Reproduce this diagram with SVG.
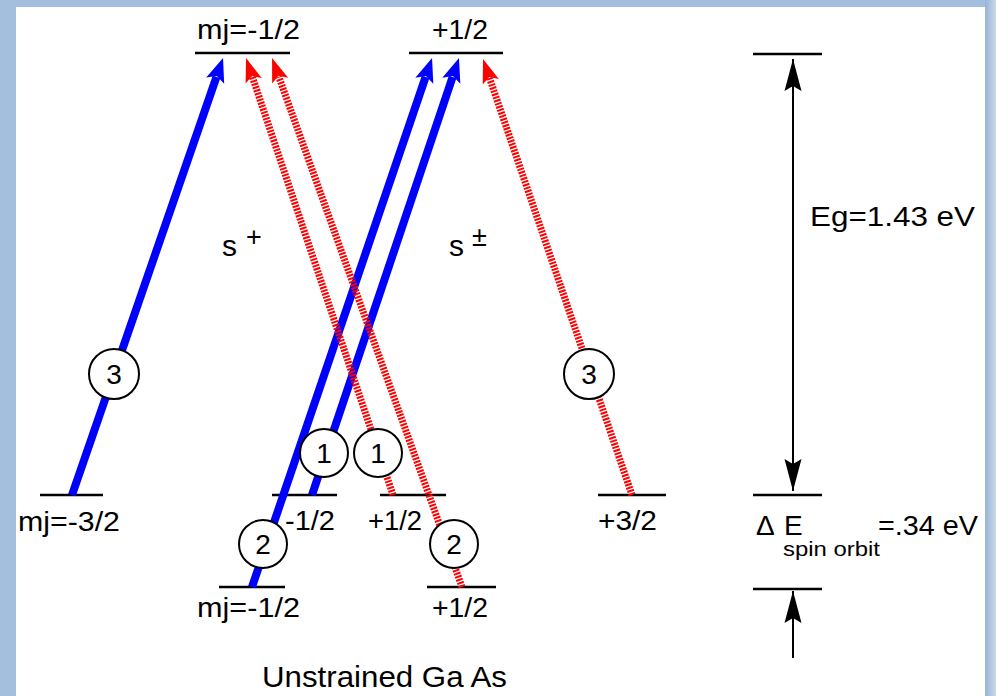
<svg xmlns="http://www.w3.org/2000/svg" width="996" height="696" viewBox="0 0 996 696">
<defs>
<linearGradient id="rb" x1="0" y1="0" x2="1" y2="0">
<stop offset="0" stop-color="#98b3d4"/>
<stop offset="1" stop-color="#c9daec"/>
</linearGradient>
<marker id="hb" markerUnits="userSpaceOnUse" viewBox="-6 -10 28 20" markerWidth="28" markerHeight="20" refX="0" refY="0" orient="auto">
<path d="M20,0 L-4,-9.5 L1,0 L-4,9.5 Z" fill="#0000ff"/>
</marker>
<marker id="hr" markerUnits="userSpaceOnUse" viewBox="-6 -10 28 20" markerWidth="28" markerHeight="20" refX="0" refY="0" orient="auto">
<path d="M20,0 L-4,-8.5 L1,0 L-4,8.5 Z" fill="#ff0000"/>
</marker>
<marker id="hk" markerUnits="userSpaceOnUse" viewBox="-34 -10 36 20" markerWidth="36" markerHeight="20" refX="0" refY="0" orient="auto-start-reverse">
<path d="M0,0 L-32,-8.5 L-27,0 L-32,8.5 Z" fill="#000"/>
</marker>
</defs>
<style>
.lv{stroke:#000;stroke-width:2.5}
.bl{stroke:#0000ff;stroke-width:8;fill:none;marker-end:url(#hb)}
.rd{stroke:#ff0000;stroke-width:7;fill:none;stroke-dasharray:2 1.3;marker-end:url(#hr)}
.ck{fill:#fff;stroke:#000;stroke-width:2}
text{font-family:"Liberation Sans",Arial,sans-serif;fill:#000}
.t{font-size:28px}
.c{font-size:28px;text-anchor:middle}
</style>
<rect x="0" y="0" width="996" height="696" fill="#a3bfdd"/>
<rect x="985" y="0" width="11" height="696" fill="url(#rb)"/>
<rect x="16" y="7" width="969" height="689" fill="#fff"/>

<g id="levels">
<line class="lv" x1="195" y1="53" x2="290" y2="53"/>
<line class="lv" x1="409" y1="53" x2="503" y2="53"/>
<line class="lv" x1="40" y1="495" x2="103" y2="495"/>
<line class="lv" x1="272" y1="495" x2="337" y2="495"/>
<line class="lv" x1="380" y1="495" x2="446" y2="495"/>
<line class="lv" x1="598" y1="495" x2="666" y2="495"/>
<line class="lv" x1="219" y1="587" x2="285" y2="587"/>
<line class="lv" x1="427" y1="587" x2="496" y2="587"/>
<line class="lv" x1="753" y1="54" x2="822" y2="54"/>
<line class="lv" x1="753" y1="495" x2="822" y2="495"/>
<line class="lv" x1="753" y1="589" x2="822" y2="589"/>
</g>

<g id="connectors">
<line class="bl" x1="72" y1="495" x2="216.5" y2="76.9"/>
<line class="bl" x1="252" y1="587" x2="425.6" y2="76.9"/>
<line class="bl" x1="312" y1="495" x2="452.6" y2="77"/>
<line class="rd" x1="393" y1="495" x2="252.4" y2="77"/>
<line class="rd" x1="462" y1="587" x2="278.8" y2="76.8"/>
<line class="rd" x1="632" y1="495" x2="489.5" y2="77.9"/>
<line x1="793" y1="59" x2="793" y2="491" stroke="#000" stroke-width="2" marker-start="url(#hk)" marker-end="url(#hk)"/>
<line x1="793" y1="658" x2="793" y2="591" stroke="#000" stroke-width="2" marker-end="url(#hk)"/>
</g>

<g id="c3l"><circle class="ck" cx="114" cy="374" r="25"/><text class="c" x="114" y="384">3</text></g>
<g id="c3r"><circle class="ck" cx="589" cy="374" r="25"/><text class="c" x="589" y="384">3</text></g>
<g id="c1l"><circle class="ck" cx="324" cy="453" r="24"/><text class="c" x="324" y="463">1</text></g>
<g id="c1r"><circle class="ck" cx="378" cy="453" r="24"/><text class="c" x="378" y="463">1</text></g>
<g id="c2l"><circle class="ck" cx="263" cy="544" r="24"/><text class="c" x="263" y="554">2</text></g>
<g id="c2r"><circle class="ck" cx="454" cy="544" r="24"/><text class="c" x="454" y="554">2</text></g>

<g id="labels">
<text class="t" x="197" y="39" textLength="103" lengthAdjust="spacingAndGlyphs">mj=-1/2</text>
<text class="t" x="432" y="39" textLength="56" lengthAdjust="spacingAndGlyphs">+1/2</text>
<text class="t" x="18" y="531" textLength="102" lengthAdjust="spacingAndGlyphs">mj=-3/2</text>
<text class="t" x="285" y="530" textLength="50" lengthAdjust="spacingAndGlyphs">-1/2</text>
<text class="t" x="368" y="530" textLength="54" lengthAdjust="spacingAndGlyphs">+1/2</text>
<text class="t" x="598" y="530" textLength="59" lengthAdjust="spacingAndGlyphs">+3/2</text>
<text class="t" x="197" y="617" textLength="103" lengthAdjust="spacingAndGlyphs">mj=-1/2</text>
<text class="t" x="432" y="617" textLength="56" lengthAdjust="spacingAndGlyphs">+1/2</text>
<text x="222" y="256" font-size="30">s</text>
<text x="246" y="246" font-size="27">+</text>
<text x="449" y="256" font-size="30">s</text>
<text x="472" y="246" font-size="27">±</text>
<text class="t" x="810" y="226" textLength="165" lengthAdjust="spacingAndGlyphs">Eg=1.43 eV</text>
<text class="t" x="756" y="535">Δ</text>
<text class="t" x="784" y="535">E</text>
<text x="783" y="556" font-size="20" textLength="97" lengthAdjust="spacingAndGlyphs">spin orbit</text>
<text class="t" x="878" y="535" textLength="100" lengthAdjust="spacingAndGlyphs">=.34 eV</text>
<text x="262" y="687" font-size="30" textLength="245" lengthAdjust="spacingAndGlyphs">Unstrained Ga As</text>
</g>
</svg>
